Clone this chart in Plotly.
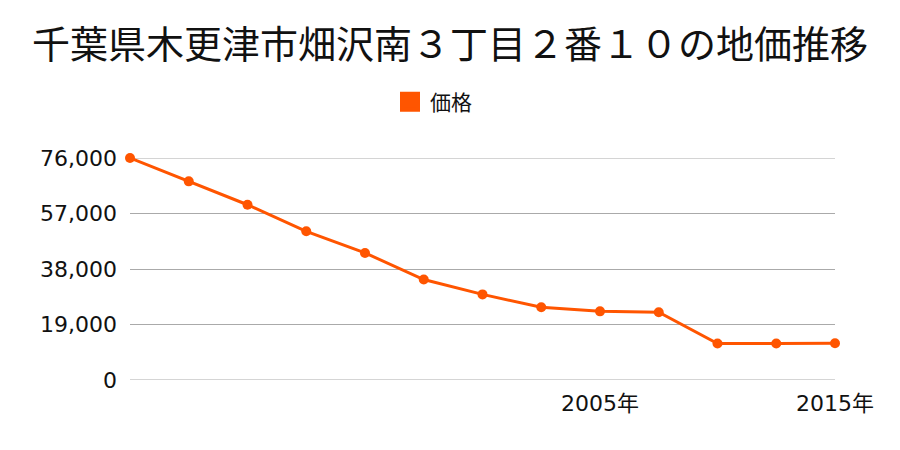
import plotly.graph_objects as go

years = ["1985年", "1988年", "1990年", "1993年", "1995年", "1998年", "2000年",
         "2003年", "2005年", "2008年", "2010年", "2013年", "2015年"]
prices = [76000, 68000, 60000, 50900, 43500, 34400, 29300, 24900, 23500,
          23200, 12500, 12500, 12600]
y_ticks = [0, 19000, 38000, 57000, 76000]
y_tick_labels = ["0", "19,000", "38,000", "57,000", "76,000"]
x_tick_labels = ["2005年", "2015年"]

title_text = "千葉県木更津市畑沢南３丁目２番１０の地価推移"
series_name = "価格"
color = "#ff5500"
grid_color = "#aaaaaa"
title_font = "Noto Sans CJK JP"
tick_font = "DejaVu Sans, Noto Sans CJK JP"

fig = go.Figure()
fig.add_trace(go.Scatter(
    x=years, y=prices, mode="lines+markers",
    line=dict(color=color, width=3),
    marker=dict(color=color, size=10),
    showlegend=False, cliponaxis=False, hoverinfo="x+y",
))
fig.add_trace(go.Scatter(
    x=[None], y=[None], mode="markers", name=series_name,
    marker=dict(color=color, size=16, symbol="square",
                line=dict(color=color, width=4)),
))

fig.update_layout(
    width=900, height=450,
    margin=dict(l=130, r=65, t=158, b=70),
    paper_bgcolor="white", plot_bgcolor="white",
    font=dict(family=tick_font, color="#111111", size=22),
    title=dict(text=title_text, x=0.5, xanchor="center", xref="container",
               y=1 - 45 / 450, yanchor="middle", yref="container",
               font=dict(size=38, family=title_font, color="#111111")),
    legend=dict(orientation="h", x=(390 - 130) / 705, xanchor="left",
                y=(380 - 102) / 222, yanchor="middle",
                font=dict(size=21, family=title_font), itemwidth=30),
    xaxis=dict(type="category", range=[0, len(years) - 1],
               tickmode="array", tickvals=x_tick_labels, ticktext=x_tick_labels,
               showgrid=False, showline=False, zeroline=False, ticks="",
               ticklabelstandoff=8, tickfont=dict(size=22)),
    yaxis=dict(range=[0, 76000], tickmode="array", tickvals=y_ticks,
               ticktext=y_tick_labels, showgrid=True, gridcolor=grid_color,
               gridwidth=1, zeroline=False, showline=False, ticks="",
               ticklabelstandoff=12, tickfont=dict(size=22)),
)
fig.add_hline(y=0, line=dict(color=grid_color, width=1), layer="below")
fig.add_hline(y=76000, line=dict(color=grid_color, width=1), layer="below")

fig.write_html("out.html")
